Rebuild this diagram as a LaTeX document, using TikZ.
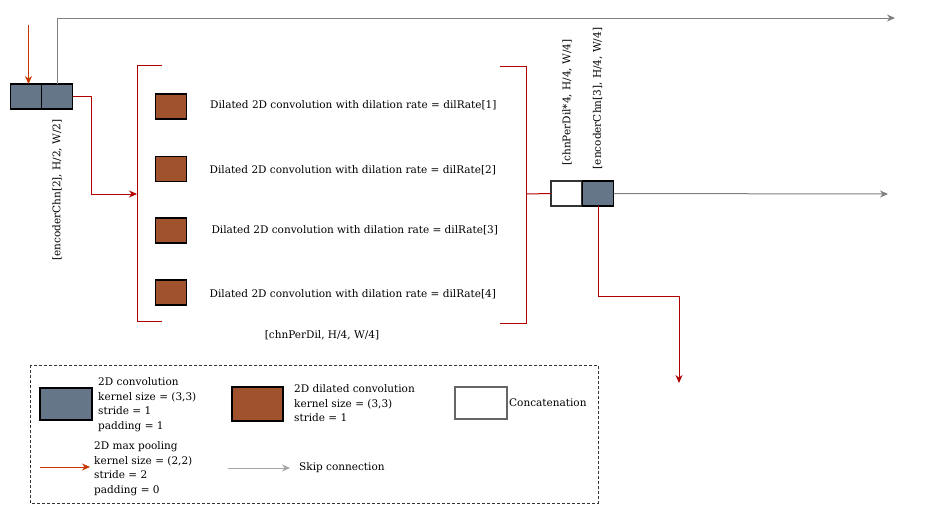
\documentclass[tikz,border=0pt]{standalone}
\usepackage{fontspec}
\setmainfont{DejaVu Serif}
\usetikzlibrary{arrows.meta}
\definecolor{slate}{HTML}{647687}
\definecolor{brn}{HTML}{A0522D}
\definecolor{dred}{HTML}{B20000}
\definecolor{ored}{HTML}{C73500}
\definecolor{skipg}{HTML}{808080}
\tikzset{
  blk/.style={draw=black,line width=1.2pt,minimum width=31pt,minimum height=25pt,inner sep=0pt,outer sep=0pt},
  convbox/.style={blk,fill=slate},
  dilbox/.style={blk,fill=brn},
  catbox/.style={blk,draw=black!80,fill=white},
  txt/.style={font=\fontsize{10.5}{14.5}\selectfont,inner sep=0pt},
  ltxt/.style={txt,align=left,anchor=west},
  redline/.style={draw=dred,line width=1pt},
  redarr/.style={redline,-{Stealth[length=8pt,width=7pt]}},
  poolarr/.style={draw=ored,line width=1pt,-{Stealth[length=8pt,width=7pt]}},
  skiparr/.style={draw=skipg,line width=1pt,-{Stealth[length=8pt,width=7pt]}},
}
\begin{document}
\begin{tikzpicture}[x=1pt,y=-1pt]
\useasboundingbox (0,0) rectangle (930,504);
% encoder blocks
\node[convbox] (enc1) at (25.75,96.5) {};
\node[convbox] (enc2) at (57.25,96.5) {};
\coordinate (inTop) at (28.5,25);
\coordinate (inEnd) at (28.5,84);
\draw[poolarr] (inTop) -- (inEnd);
\node[txt,rotate=90] (encLbl) at (57,190) {[encoderChn[2], H/2, W/2]};
% skip connection top
\coordinate (skipTop) at (895,18);
\draw[skiparr] (enc2.north) |- (skipTop);
% brackets
\coordinate (lb) at (137,194);
\coordinate (rb) at (526,194);
\draw[redline] (162,65) -- (137,65) -- (137,321) -- (162,321);
\draw[redline] (500,66) -- (526,66) -- (526,323) -- (500,323);
\draw[redarr] (enc2.east) -- ++(19,0) |- (lb);
% dilated convs
\node[dilbox] (d1) at (171,106.5) {};
\node[dilbox] (d2) at (171,169) {};
\node[dilbox] (d3) at (171,230.5) {};
\node[dilbox] (d4) at (171,292.5) {};
\node[txt] (t1) at (353.3,105) {Dilated 2D convolution with dilation rate = dilRate[1]};
\node[txt] (t2) at (352.8,170) {Dilated 2D convolution with dilation rate = dilRate[2]};
\node[txt] (t3) at (354.7,230) {Dilated 2D convolution with dilation rate = dilRate[3]};
\node[txt] (t4) at (352.8,294) {Dilated 2D convolution with dilation rate = dilRate[4]};
\node[txt] (chnLbl) at (322,335) {[chnPerDil, H/4, W/4]};
% concatenation
\node[catbox] (c1) at (566.5,193.5) {};
\node[convbox] (c2) at (598,193.5) {};
\draw[redline] (rb) -- (c1.west);
\node[txt,rotate=90] (catLbl1) at (567,102.5) {[chnPerDil*4, H/4, W/4]};
\node[txt,rotate=90] (catLbl2) at (597.5,98.5) {[encoderChn[3], H/4, W/4]};
\coordinate (skipMid) at (888,194);
\draw[skiparr] (c2.east) -- (skipMid);
\coordinate (downEnd) at (679,383);
\draw[redarr] (c2.south) -- ++(0,90) -| (downEnd);
% legend
\draw[black!80,line width=0.9pt,dash pattern=on 3pt off 2pt] (30,365) rectangle (598,503);
\node[convbox,minimum width=52pt,minimum height=32pt] (lg1) at (66,404) {};
\node[ltxt] (lg1t) at (98,404.5) {2D convolution\\kernel size = (3,3)\\stride = 1\\padding = 1};
\node[dilbox,minimum width=51pt,minimum height=34pt] (lg2) at (257.5,404) {};
\node[ltxt] (lg2t) at (294,403.5) {2D dilated convolution\\kernel size = (3,3)\\stride = 1};
\node[catbox,draw=black!60,minimum width=52pt,minimum height=32pt] (lg3) at (481,403) {};
\node[ltxt] (lg3t) at (509,403) {Concatenation};
\coordinate (lpA) at (40,467);
\coordinate (lpB) at (90,467);
\draw[poolarr] (lpA) -- (lpB);
\node[ltxt] (lg4t) at (94,468.5) {2D max pooling\\kernel size = (2,2)\\stride = 2\\padding = 0};
\coordinate (lsA) at (228,468);
\coordinate (lsB) at (290,468);
\draw[skiparr,draw=skipg!70] (lsA) -- (lsB);
\node[ltxt] (lg5t) at (299,468) {Skip connection};
\end{tikzpicture}
\end{document}
